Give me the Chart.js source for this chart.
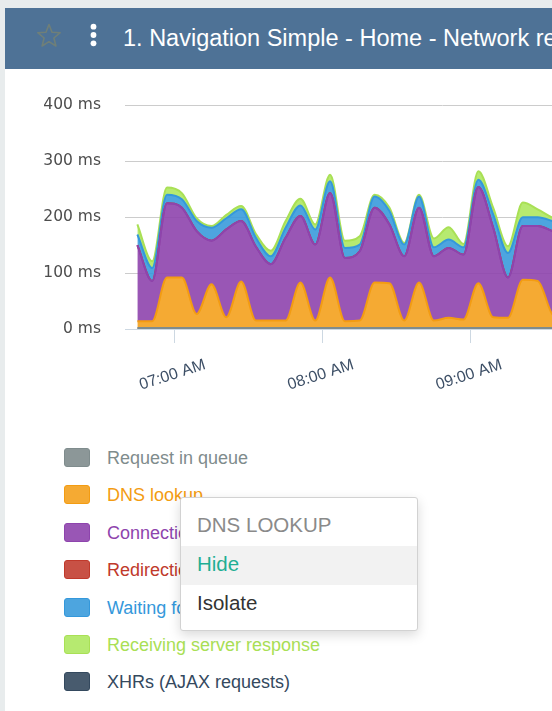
<!DOCTYPE html>
<html>
<head>
<meta charset="utf-8">
<script src="https://cdn.jsdelivr.net/npm/chart.js@4.4.0/dist/chart.umd.min.js"></script>
<style>
	html, body { margin: 0; padding: 0; width: 552px; height: 711px; overflow: hidden; background: #e8eced; font-family: "Liberation Sans", Arial, sans-serif; }
	#card { position: absolute; left: 5px; top: 8px; width: 800px; height: 720px; background: #fff; }
	#head { position: absolute; left: 0; top: 0; width: 100%; height: 61px; background: #4e7296; }
	#star { position: absolute; left: 31px; top: 15px; }
	#kebab { position: absolute; left: 84px; top: 15px; }
	#title { position: absolute; left: 118px; top: 16px; color: #fff; font-size: 23.5px; white-space: nowrap; line-height: 28px; }
	#chartBox { position: absolute; left: 0; top: 64px; width: 755px; height: 347px; }
	#legend { position: absolute; left: 59px; top: 440px; }
	.row { position: absolute; left: 0; height: 20px; white-space: nowrap; }
	.sw { position: absolute; left: 0; top: 0; width: 24px; height: 17px; border: 1px solid; border-radius: 3px; }
	.lbl { position: absolute; left: 43px; top: -1px; font-size: 18px; line-height: 22px; }
	#menu { position: absolute; left: 175px; top: 489px; width: 236px; height: 132px; background: #fff; border: 1px solid #d2d2d2; border-radius: 3px; box-shadow: 0 4px 12px rgba(0,0,0,0.15); }
	#menu .hd { position: absolute; left: 16px; top: 14px; font-size: 20.5px; color: #8a8a8a; line-height: 26px; }
	#menu .it { position: absolute; left: 0; width: 236px; height: 39px; font-size: 20.5px; line-height: 36px; text-indent: 16px; }
</style>
</head>
<body>
<div id="card">
	<div id="head">
		<svg id="star" width="26" height="25" viewBox="0 0 26 25">
			<polygon points="13,1.5 16,9.2 24.2,9.7 17.9,15 19.9,23 13,18.6 6.1,23 8.1,15 1.8,9.7 10,9.2" fill="none" stroke="#6f7f78" stroke-width="1.6" stroke-linejoin="round"/>
		</svg>
		<svg id="kebab" width="10" height="26" viewBox="0 0 10 26">
			<circle cx="4.5" cy="3.7" r="2.9" fill="#fff"/>
			<circle cx="4.5" cy="12" r="2.9" fill="#fff"/>
			<circle cx="4.5" cy="20.3" r="2.9" fill="#fff"/>
		</svg>
		<div id="title">1. Navigation Simple - Home - Network requests</div>
	</div>
	<div id="chartBox"><canvas id="chart" width="755" height="347"></canvas></div>
	<div id="legend"></div>
	<div id="menu">
		<div class="hd">DNS LOOKUP</div>
		<div class="it" style="top:48px;background:#f2f2f2;color:#1fae94;">Hide</div>
		<div class="it" style="top:87px;color:#333;">Isolate</div>
	</div>
</div>
<script>
// one point every 6 minutes
const times = ["06:45", "06:51", "06:57", "07:03", "07:09", "07:15", "07:21", "07:27", "07:33", "07:39",
	"07:45", "07:51", "07:57", "08:03", "08:09", "08:15", "08:21", "08:27", "08:33", "08:39",
	"08:45", "08:51", "08:57", "09:03", "09:09", "09:15", "09:21", "09:27", "09:33", "09:39"];

const queue = [2, 2, 2, 2, 2, 2, 2, 2, 2, 2, 2, 2, 2, 2, 2, 2, 2, 2, 2, 2, 2, 2, 2, 2, 2, 2, 2, 2, 2, 2];
const dns = [12, 12, 90, 90, 25, 78, 19, 83, 13, 13, 13, 81, 13, 90, 12, 13, 81, 80, 13, 81, 13, 18, 15, 80, 19, 18, 86, 84, 24, 13];
const connection = [136, 72, 133, 125, 148, 78, 157, 108, 132, 101, 148, 119, 136, 151, 113, 124, 134, 105, 115, 134, 115, 125, 116, 172, 160, 72, 96, 98, 149, 150];
const redirection = [0, 0, 0, 0, 0, 0, 0, 0, 0, 0, 0, 0, 0, 0, 0, 0, 0, 0, 0, 0, 0, 0, 0, 0, 0, 0, 0, 0, 0, 0];
const waiting = [19, 23, 15, 15, 18, 23, 20, 21, 16, 14, 18, 19, 27, 21, 18, 12, 20, 24, 21, 20, 16, 15, 13, 13, 24, 44, 16, 16, 18, 18];
const receiving = [18, 12, 13, 11, 5, 3, 6, 6, 7, 10, 12, 12, 9, 12, 13, 15, 3, 6, 3, 3, 16, 22, 6, 15, 12, 12, 26, 14, 6, 5];

const yTicks = [0, 100, 200, 300, 400];
const xTickTimes = ["07:00", "08:00", "09:00"];
const xTickLabels = ["07:00 AM", "08:00 AM", "09:00 AM"];

const seriesNames = ["Request in queue", "DNS lookup", "Connection", "Redirection", "Waiting for server", "Receiving server response", "XHRs (AJAX requests)"];
const seriesColors = ["#7f8c8d", "#f39c12", "#8e44ad", "#c0392b", "#3498db", "#a9e055", "#34495e"];
const seriesFills = ["rgba(127,140,141,0.9)", "rgba(243,156,18,0.86)", "rgba(142,68,173,0.9)", "rgba(192,57,43,0.88)", "rgba(52,152,219,0.88)", "rgba(176,232,100,0.92)", "rgba(52,73,94,0.9)"];
const seriesData = [queue, dns, connection, redirection, waiting, receiving];

function toMin(t) {
	const [h, m] = t.split(":").map(Number);
	return h * 60 + m;
}

// legend under the chart
const legend = document.getElementById("legend");
seriesNames.forEach((name, i) => {
	const row = document.createElement("div");
	row.className = "row";
	row.style.top = (i * 37.4) + "px";
	row.innerHTML = `<div class="sw" style="background:${seriesFills[i]};border-color:${seriesColors[i]}"></div>
		<div class="lbl" style="color:${seriesColors[i]}">${name}</div>`;
	legend.appendChild(row);
});

const xLabels = {
	id: "xLabels",
	afterDraw(chart) {
		const { ctx, chartArea } = chart;
		const x = chart.scales.x;
		ctx.save();
		ctx.font = '16px "Liberation Sans", Arial, sans-serif';
		ctx.fillStyle = "#3d4f66";
		ctx.textAlign = "center";
		ctx.textBaseline = "middle";
		xTickTimes.forEach((t, i) => {
			ctx.save();
			ctx.translate(x.getPixelForValue(toMin(t)) - 2, chartArea.bottom + 46);
			ctx.rotate(-18 * Math.PI / 180);
			ctx.fillText(xTickLabels[i], 0, 0);
			ctx.restore();
		});
		ctx.restore();
	}
};

const datasets = seriesData.map((values, i) => ({
	label: seriesNames[i],
	data: values.map((v, j) => ({ x: toMin(times[j]), y: v })),
	borderColor: seriesColors[i],
	backgroundColor: seriesFills[i],
	borderWidth: 2,
	fill: i === 0 ? "origin" : "-1",
	pointRadius: 0,
	cubicInterpolationMode: "monotone"
}));

new Chart(document.getElementById("chart").getContext("2d"), {
	type: "line",
	data: { datasets: datasets },
	options: {
		responsive: false,
		animation: false,
		devicePixelRatio: 1,
		layout: { padding: { top: 16, right: 0, bottom: 0, left: 0 } },
		plugins: { legend: { display: false }, tooltip: { enabled: false } },
		scales: {
			x: {
				type: "linear",
				min: 400,
				max: 657,
				afterBuildTicks: (scale) => { scale.ticks = xTickTimes.map((t) => ({ value: toMin(t) })); },
				afterFit: (scale) => { scale.height = 90; },
				ticks: { display: false },
				grid: { drawOnChartArea: false, drawTicks: true, tickLength: 14, color: "#cdd8e2" },
				border: { color: "#cdd8e2", width: 1 }
			},
			y: {
				stacked: true,
				min: 0,
				max: 400,
				afterBuildTicks: (scale) => { scale.ticks = yTicks.map((v) => ({ value: v })); },
				afterFit: (scale) => { scale.width = 120; },
				ticks: {
					padding: 24,
					color: "#4d4d4d",
					font: { family: "'DejaVu Sans', Verdana, sans-serif", size: 15.5 },
					callback: (v) => v + " ms"
				},
				grid: { color: "#cccccc", drawTicks: false },
				border: { display: false }
			}
		}
	},
	plugins: [xLabels]
});
</script>
</body>
</html>
